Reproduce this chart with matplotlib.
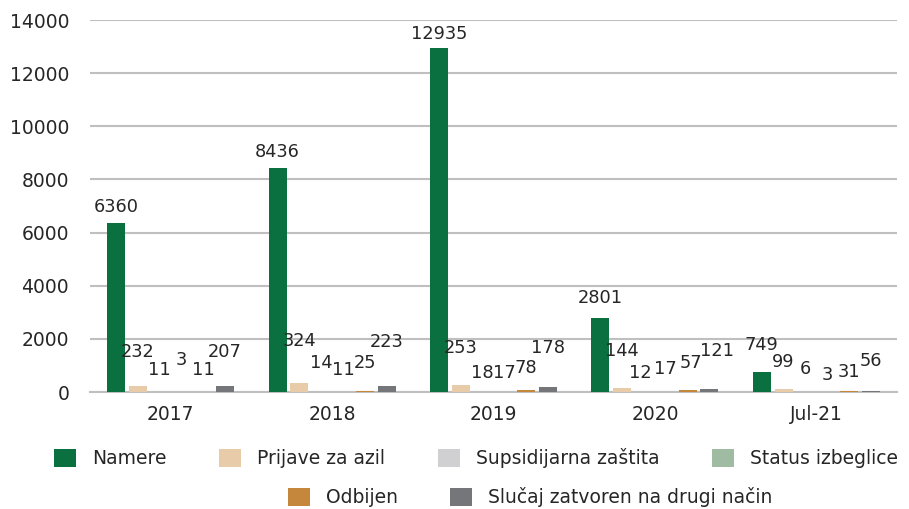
import matplotlib.pyplot as plt
from matplotlib.patches import Patch
import numpy as np

# Podaci
godine = ['2017', '2018', '2019', '2020', 'Jul-21']
serije = ['Namere', 'Prijave za azil', 'Supsidijarna zaštita',
          'Status izbeglice', 'Odbijen', 'Slučaj zatvoren na drugi način']
namere = [6360, 8436, 12935, 2801, 749]
prijave = [232, 324, 253, 144, 99]
supsidijarna = [11, 14, 18, 12, 6]
status = [3, 11, 17, 17, 3]
odbijen = [11, 25, 78, 57, 31]
zatvoren = [207, 223, 178, 121, 56]

boje = ['#0b7040', '#e8cba8', '#d0d0d2', '#9fbca3', '#c4873b', '#75767a']

# koliko piksela je natpis iznad vrha stupca (kao u originalu)
podizanje = [
    [16, 16, 14, 20, 27],
    [34, 42, 37, 37, 27],
    [22, 29, 19, 19, 23],
    [32, 22, 19, 23, 17],
    [22, 28, 22, 27, 19],
    [34, 44, 39, 38, 30],
]
# mali horizontalni pomak natpisa (pikseli), da se ne preklapaju
pomak_x = {(2, 3): -4, (4, 3): 3, (5, 3): 8}

vrednosti = [namere, prijave, supsidijarna, status, odbijen, zatvoren]

plt.rcParams['font.family'] = 'DejaVu Sans'
tekst_boja = '#262626'

fig = plt.figure(figsize=(9.09, 5.09), dpi=100)
ax = fig.add_axes([90 / 909, 1 - 392 / 509, 807 / 909, 372 / 509])

x = np.arange(len(godine))
korak = 0.135
sirina = 0.111

for i, (ime, vals) in enumerate(zip(serije, vrednosti)):
    pos = x + (i - 2.5) * korak
    ax.bar(pos, vals, width=sirina, color=boje[i], zorder=3)
    for j, v in enumerate(vals):
        ax.annotate(str(v), (pos[j], v),
                    xytext=(pomak_x.get((i, j), 0), podizanje[i][j]),
                    textcoords='offset pixels', ha='center', va='center',
                    fontsize=12.8, color=tekst_boja, zorder=4)

ax.set_xlim(-0.5, len(godine) - 0.5)
ax.set_ylim(0, 14000)
ax.set_yticks(range(0, 14001, 2000))
ax.set_xticks(x)
ax.set_xticklabels(godine)
ax.tick_params(axis='both', length=0, labelsize=13.5, labelcolor=tekst_boja)
ax.tick_params(axis='y', pad=15)
ax.tick_params(axis='x', pad=9)
ax.grid(axis='y', color='#bfbfbf', linewidth=1.5, zorder=0)
for s in ['top', 'right', 'left']:
    ax.spines[s].set_visible(False)
ax.spines['bottom'].set_color('#bfbfbf')
ax.spines['bottom'].set_linewidth(1.5)

rucke = [Patch(facecolor=b, edgecolor='none') for b in boje]
leg1 = fig.legend(rucke[:4], serije[:4], loc='center', ncol=4,
                  bbox_to_anchor=(476 / 909, 1 - 458 / 509), frameon=False,
                  fontsize=13.5, handlelength=1.17, handleheight=1.1,
                  handletextpad=0.85, columnspacing=2.8, labelcolor=tekst_boja)
leg2 = fig.legend(rucke[4:], serije[4:], loc='center', ncol=2,
                  bbox_to_anchor=(530 / 909, 1 - 497 / 509), frameon=False,
                  fontsize=13.5, handlelength=1.17, handleheight=1.1,
                  handletextpad=0.85, columnspacing=2.8, labelcolor=tekst_boja)

fig.savefig('out.png', dpi=100)
plt.close(fig)
